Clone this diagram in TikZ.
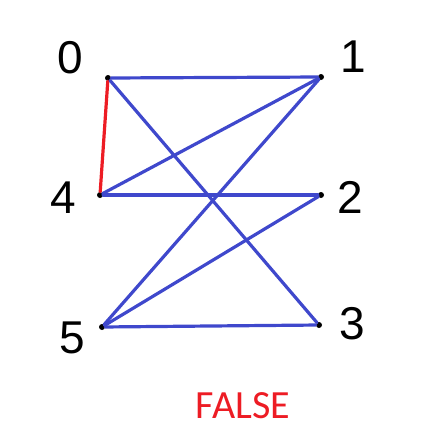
\documentclass[tikz,border=0pt]{standalone}
\usepackage{fontspec}
\setmainfont{Carlito}
\newfontfamily\handfont{Liberation Sans}
\usepackage{xcolor}
\usepackage{tikz}
\usetikzlibrary{positioning}

\definecolor{edgeblue}{RGB}{63,72,204}
\definecolor{edgered}{RGB}{237,28,36}

\begin{document}
\begin{tikzpicture}[
  x=1pt, y=-1pt,
  vert/.style={circle, fill=black, inner sep=0pt, minimum size=6pt},
  lbl/.style={font=\handfont\fontsize{46}{46}\selectfont, inner sep=0pt},
  edge/.style={draw=edgeblue, line width=3.2pt, line cap=round},
  redge/.style={draw=edgered, line width=3.2pt, line cap=round}
]
\useasboundingbox (0,0) rectangle (432,445);
\node[vert] (v0) at (108,78) {};
\node[vert] (v1) at (321,77) {};
\node[vert] (v4) at (100,195) {};
\node[vert] (v2) at (321,195) {};
\node[vert] (v5) at (102,327) {};
\node[vert] (v3) at (319,325) {};
\node[lbl] (l0) at (70,58) {0};
\node[lbl] (l1) at (353,57) {1};
\node[lbl] (l4) at (63,198) {4};
\node[lbl] (l2) at (350,197) {2};
\node[lbl] (l5) at (72,338) {5};
\node[lbl] (l3) at (352,324) {3};
\node[text=edgered, font=\fontsize{40}{40}\selectfont, inner sep=0pt] (verdict) at (243,406) {FALSE};
\path[redge] (v0) -- (v4);
\path[edge] (v0) -- (v1);
\path[edge] (v0) -- (v3);
\path[edge] (v4) -- (v1);
\path[edge] (v4) -- (v2);
\path[edge] (v5) -- (v1);
\path[edge] (v5) -- (v2);
\path[edge] (v5) -- (v3);
\end{tikzpicture}
\end{document}
